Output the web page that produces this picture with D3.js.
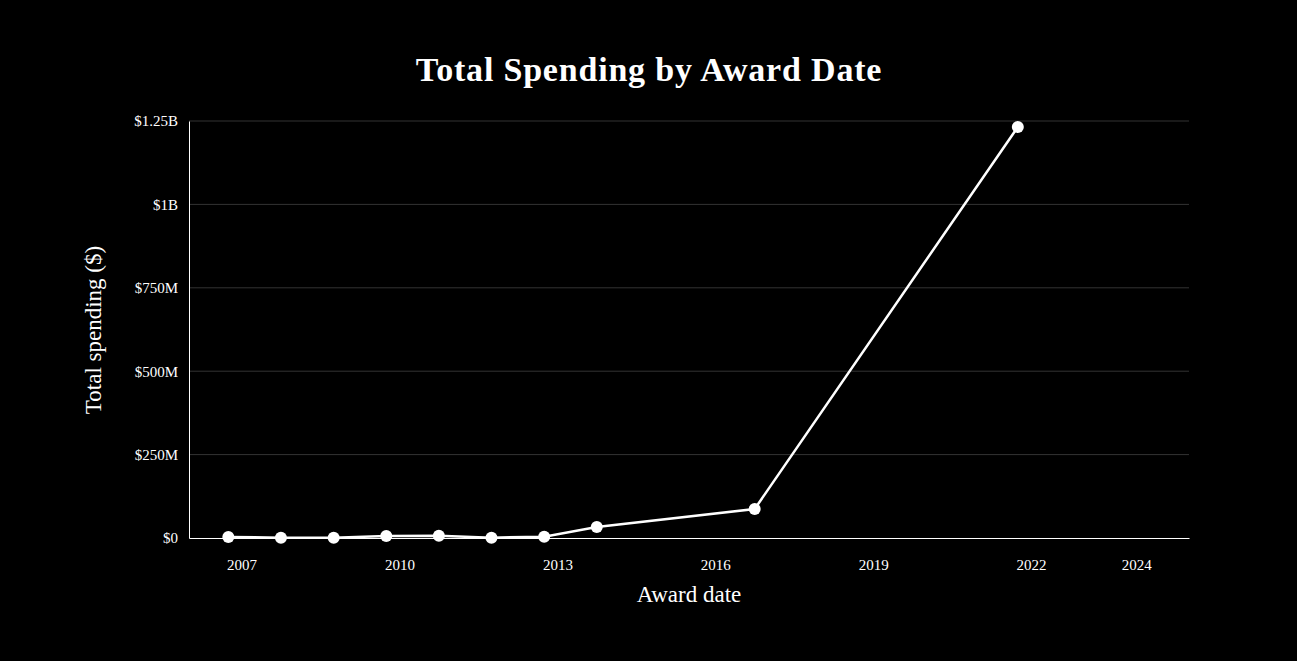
<!DOCTYPE html>
<html><head><meta charset="utf-8">
<script src="https://cdn.jsdelivr.net/npm/d3@7"></script>
<style>body{margin:0;background:#000}svg{display:block}text{font-family:"Liberation Serif","DejaVu Serif",serif;fill:#fff}</style>
</head><body><svg id="c" width="1297" height="661"></svg>
<script>
const dates = ["2006-10-01","2007-10-01","2008-10-01","2009-10-01","2010-10-01","2011-10-01","2012-10-01","2013-10-01","2016-10-01","2021-10-01"];
const values = [3e6,1e6,0.5e6,6e6,7e6,1e6,4e6,33e6,87e6,1232e6];
const xTickYears = [2007,2010,2013,2016,2019,2022,2024];
const yTicks = [0,250e6,500e6,750e6,1e9,1.25e9];
const yTickLabels = ["$0","$250M","$500M","$750M","$1B","$1.25B"];

const svg = d3.select("#c");
const m = {l:189,r:1189,t:121,b:538};
const x = d3.scaleTime().domain([new Date(2006,0,1),new Date(2025,0,1)]).range([m.l,m.r]);
const y = d3.scaleLinear().domain([0,1.25e9]).range([m.b,m.t]);
const data = dates.map((d,i)=>({d:new Date(d),v:values[i]}));

svg.append("g").selectAll("line").data(yTicks.slice(1)).join("line")
  .attr("x1",m.l).attr("x2",m.r).attr("y1",d=>y(d)).attr("y2",d=>y(d))
  .attr("stroke","#333").attr("stroke-width",1);

const xa = svg.append("g").attr("transform",`translate(0,${m.b})`)
  .call(d3.axisBottom(x).tickValues(xTickYears.map(yr=>new Date(yr,0,1))).tickFormat(d3.timeFormat("%Y")).tickSize(0).tickPadding(21));
xa.select(".domain").attr("stroke","#fff");
xa.selectAll("text").attr("font-size",15);
const ya = svg.append("g").attr("transform",`translate(${m.l},0)`)
  .call(d3.axisLeft(y).tickValues(yTicks).tickFormat((d,i)=>yTickLabels[i]).tickSize(0).tickPadding(11));
ya.select(".domain").attr("stroke","#fff");
ya.selectAll("text").attr("font-size",15);

svg.append("path").datum(data).attr("fill","none").attr("stroke","#fff").attr("stroke-width",2.5)
  .attr("d",d3.line().x(d=>x(d.d)).y(d=>y(d.v)));
svg.append("g").selectAll("circle").data(data).join("circle")
  .attr("cx",d=>x(d.d)).attr("cy",d=>y(d.v)).attr("r",6).attr("fill","#fff");

svg.append("text").attr("x",649).attr("y",81).attr("text-anchor","middle").attr("font-size",34).attr("font-weight","bold").attr("letter-spacing",0.8).text("Total Spending by Award Date");
svg.append("text").attr("x",689).attr("y",602).attr("text-anchor","middle").attr("font-size",23).text("Award date");
svg.append("text").attr("transform","translate(101,330) rotate(-90)").attr("text-anchor","middle").attr("font-size",23).text("Total spending ($)");
</script></body></html>
